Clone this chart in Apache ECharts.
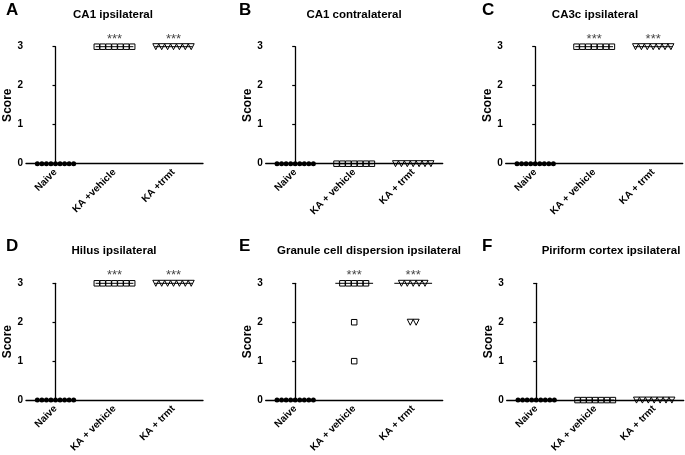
<!DOCTYPE html>
<html>
<head>
<meta charset="utf-8">
<script src="https://cdn.jsdelivr.net/npm/echarts@6/dist/echarts.min.js"></script>
<style>
html,body{margin:0;padding:0;background:#fff;}
#chart{width:685px;height:455px;}
</style>
</head>
<body>
<div id="chart"></div>
<script>
// ---- data ----
const panelLetters = ['A', 'B', 'C', 'D', 'E', 'F'];
const panelTitles = ['CA1 ipsilateral', 'CA1 contralateral', 'CA3c ipsilateral',
  'Hilus ipsilateral', 'Granule cell dispersion ipsilateral', 'Piriform cortex ipsilateral'];
const categoriesA = ['Naive', 'KA +vehicle', 'KA +trmt'];
const categoriesOther = ['Naive', 'KA + vehicle', 'KA + trmt'];
const yTicks = [0, 1, 2, 3];

const naiveScores = [0, 0, 0, 0, 0, 0, 0, 0, 0];
const vehicleA = [3, 3, 3, 3, 3, 3, 3];
const trmtA = [3, 3, 3, 3, 3, 3, 3];
const vehicleB = [0, 0, 0, 0, 0, 0, 0];
const trmtB = [0, 0, 0, 0, 0, 0, 0];
const vehicleC = [3, 3, 3, 3, 3, 3, 3];
const trmtC = [3, 3, 3, 3, 3, 3, 3];
const vehicleD = [3, 3, 3, 3, 3, 3, 3];
const trmtD = [3, 3, 3, 3, 3, 3, 3];
const vehicleE = [3, 3, 3, 3, 3, 2, 1];
const trmtE = [3, 3, 3, 3, 3, 2, 2];
const vehicleF = [0, 0, 0, 0, 0, 0, 0];
const trmtF = [0, 0, 0, 0, 0, 0, 0];

const sigA = ['', '***', '***'];
const sigB = ['', '', ''];
const sigC = ['', '***', '***'];
const sigD = ['', '***', '***'];
const sigE = ['', '***', '***'];
const sigF = ['', '', ''];

// ---- build ----
const panels = [
  { cats: categoriesA, groups: [naiveScores, vehicleA, trmtA], sig: sigA },
  { cats: categoriesOther, groups: [naiveScores, vehicleB, trmtB], sig: sigB },
  { cats: categoriesOther, groups: [naiveScores, vehicleC, trmtC], sig: sigC },
  { cats: categoriesOther, groups: [naiveScores, vehicleD, trmtD], sig: sigD },
  { cats: categoriesOther, groups: [naiveScores, vehicleE, trmtE], sig: sigE },
  { cats: categoriesOther, groups: [naiveScores, vehicleF, trmtF], sig: sigF }
];

// layout (pixels)
const gridLefts = [26, 265.7, 505.7, 26, 265.7, 506.7];
const gridTops = [46.7, 46.7, 46.7, 283.3, 283.3, 283.3];
const gridW = 177;
const gridH = 117;
const titleX = [113, 354, 595, 114, 369, 611];
const titleY = [9, 9, 9, 245, 245, 245];
const letterX = [6, 239, 482, 6, 239, 482];
const letterY = [2, 2, 2, 238, 238, 238];

const FONT = 'Liberation Sans, Arial, sans-serif';
const groupSpacing = [0.077, 0.1, 0.1];
const symbols = [
  { symbol: 'circle', size: 5, rotate: 0, fill: '#000' },
  { symbol: 'rect', size: 5.5, rotate: 0, fill: 'rgba(0,0,0,0)' },
  { symbol: 'triangle', size: 6, rotate: 180, fill: 'rgba(0,0,0,0)' }
];

function median(arr) {
  const s = arr.slice().sort((a, b) => a - b);
  const n = s.length;
  return n % 2 ? s[(n - 1) / 2] : (s[n / 2 - 1] + s[n / 2]) / 2;
}

const grid = [], xAxis = [], yAxis = [], series = [], title = [];

panels.forEach((p, i) => {
  grid.push({ left: gridLefts[i], top: gridTops[i], width: gridW, height: gridH, containLabel: false });
  xAxis.push({
    type: 'category', gridIndex: i, data: p.cats,
    axisLine: { lineStyle: { color: '#000', width: 1.3 } },
    axisTick: { alignWithLabel: true, length: 3, lineStyle: { color: '#000', width: 1.2 } },
    axisLabel: { rotate: 45, margin: 7, color: '#000', fontFamily: FONT, fontWeight: 'bold', fontSize: 10, interval: 0 },
    splitLine: { show: false }
  });
  xAxis.push({
    type: 'value', gridIndex: i, min: -0.5, max: 2.5, show: false
  });
  yAxis.push({
    type: 'value', gridIndex: i, min: yTicks[0], max: yTicks[yTicks.length - 1], interval: 1,
    name: 'Score', nameLocation: 'middle', nameGap: 10, nameRotate: 90,
    nameTextStyle: { color: '#000', fontFamily: FONT, fontWeight: 'bold', fontSize: 12 },
    axisLine: { show: true, lineStyle: { color: '#000', width: 1.3 } },
    axisTick: { show: true, length: 3, lineStyle: { color: '#000', width: 1.2 } },
    axisLabel: { margin: 3, color: '#000', fontFamily: FONT, fontWeight: 'bold', fontSize: 10 },
    splitLine: { show: false }
  });

  const valueXIndex = i * 2 + 1;
  const medianData = [];
  const sigData = [];
  p.groups.forEach((vals, g) => {
    const counts = {};
    vals.forEach(v => { counts[v] = (counts[v] || 0) + 1; });
    const seen = {};
    const data = vals.map(v => {
      const m = counts[v];
      const k = seen[v] = (seen[v] === undefined ? 0 : seen[v] + 1);
      return [g + (k - (m - 1) / 2) * groupSpacing[g], v];
    });
    const sym = symbols[g];
    series.push({
      type: 'scatter', xAxisIndex: valueXIndex, yAxisIndex: i, data: data,
      symbol: sym.symbol, symbolSize: sym.size, symbolRotate: sym.rotate, clip: false,
      itemStyle: { color: sym.fill, borderColor: '#000', borderWidth: g === 0 ? 0 : 1, opacity: 1 },
      z: 5, silent: true
    });
    medianData.push([g, median(vals)]);
    if (p.sig[g]) sigData.push({ value: [g, Math.max.apply(null, vals)], label: { formatter: p.sig[g] } });
  });

  series.push({
    type: 'custom', coordinateSystem: 'cartesian2d', xAxisIndex: valueXIndex, yAxisIndex: i,
    data: medianData, encode: { x: 0, y: 1 }, z: 4, silent: true, clip: false,
    renderItem: (params, api) => {
      const g = api.value(0), m = api.value(1);
      const a = api.coord([g - 0.32, m]);
      const b = api.coord([g + 0.32, m]);
      return { type: 'line', shape: { x1: a[0], y1: a[1], x2: b[0], y2: b[1] }, style: { stroke: '#000', lineWidth: 1 } };
    }
  });

  series.push({
    type: 'scatter', xAxisIndex: valueXIndex, yAxisIndex: i, data: sigData,
    symbolSize: 0, clip: false, silent: true, z: 6,
    label: { show: true, position: 'top', distance: 1, color: '#111', fontFamily: FONT, fontSize: 13 }
  });

  title.push({
    text: panelTitles[i], left: titleX[i], top: titleY[i], textAlign: 'center',
    textStyle: { color: '#000', fontFamily: FONT, fontWeight: 'bold', fontSize: 11.5 }, padding: 0
  });
  title.push({
    text: panelLetters[i], left: letterX[i], top: letterY[i],
    textStyle: { color: '#000', fontFamily: FONT, fontWeight: 'bold', fontSize: 17 }, padding: 0
  });
});

const chart = echarts.init(document.getElementById('chart'), null, { renderer: 'canvas' });
chart.setOption({
  animation: false,
  backgroundColor: '#fff',
  title: title,
  grid: grid,
  xAxis: xAxis,
  yAxis: yAxis,
  series: series
});
</script>
</body>
</html>
